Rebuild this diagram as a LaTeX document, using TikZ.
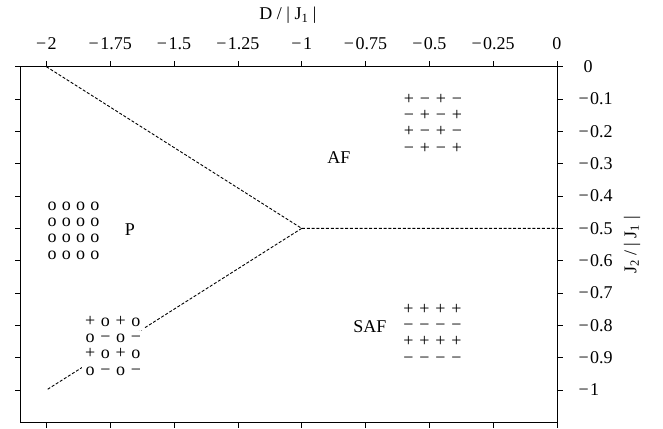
\documentclass[tikz,border=0pt]{standalone}
\usepackage{fontspec}
\setmainfont{Liberation Serif}
\usetikzlibrary{positioning}
\newcommand{\spinrow}[5][16pt]{%
\makebox[#1]{#2}\makebox[#1]{#3}\makebox[#1]{#4}\makebox[#1]{#5}}
\newcommand{\mn}{−\kern1.5pt}
\tikzset{
  spincells/.style={inner sep=0, text height=12pt, text depth=4pt, fill=white},
  border/.style={line width=0.9pt, dash pattern=on 3pt off 1.8pt},
  axistick/.style={line width=0.6pt}
}

\begin{document}
\begin{tikzpicture}[x=255.25pt, y=323.3pt, font=\fontsize{18}{20}\selectfont]
\useasboundingbox (-2.1818,-1.1175) rectangle (0.4153,0.2063);
% frame and ticks
\draw[line width=0.8pt] (-2.1,-1.1) rectangle (0,0);
\draw[line width=1.4pt] (-2.1,0) -- (0,0);
\foreach \d/\t [count=\i] in {-2/{\mn2}, -1.75/{\mn1.75}, -1.5/{\mn1.5},
    -1.25/{\mn1.25}, -1/{\mn1}, -0.75/{\mn0.75}, -0.5/{\mn0.5},
    -0.25/{\mn0.25}, 0/0} {
  \draw[axistick] (\d,0) -- ++(0,6pt);
  \draw[axistick] (\d,-1.1) -- ++(0,-6pt);
  \path (\d,0) ++(0,17pt) node[anchor=base] (dlab\i) {\t};
}
\foreach \k in {0,...,10} {
  \draw[axistick] (-2.1,-\k/10) -- ++(-6pt,0);
  \draw[axistick] (0,-\k/10) -- ++(6pt,0);
}
\foreach \k in {1,...,9}
  \path (0,-\k/10) ++(18pt,0) node[anchor=west] (jlab\k) {\mn0.\k};
\path (0,-1) ++(18pt,0) node[anchor=west] (jlab10) {\mn1};
\path (0,0) ++(23pt,0) node[anchor=west] (jlab0) {0};
% axis titles
\path (-1.054,0) ++(0,47pt) node[anchor=base] (dtitle) {D / | J\textsubscript{1} |};
\path (0,-0.5515) ++(75pt,0) node[rotate=90] (jtitle) {J\textsubscript{2} / | J\textsubscript{1} |};
% phase boundaries
\coordinate (a) at (-2,0);
\coordinate (t) at (-1,-0.5);
\coordinate (e) at (0,-0.5);
\coordinate (b) at (-2,-1);
\draw[border] (a) -- (t) -- (e);
\draw[border] (t) -- (b);
% AF
\node (af) at (-0.854,-0.282) {AF};
\node[spincells] (af1) at (-0.486,-0.103) {\spinrow{+}{−}{+}{−}};
\node[spincells, below=0pt of af1] (af2) {\spinrow{−}{+}{−}{+}};
\node[spincells, below=0pt of af2] (af3) {\spinrow{+}{−}{+}{−}};
\node[spincells, below=0pt of af3] (af4) {\spinrow{−}{+}{−}{+}};
% P
\node (p) at (-1.673,-0.505) {P};
\node[spincells] (p1) at (-1.894,-0.431) {\spinrow[14.3pt]{o}{o}{o}{o}};
\node[spincells, below=0pt of p1] (p2) {\spinrow[14.3pt]{o}{o}{o}{o}};
\node[spincells, below=0pt of p2] (p3) {\spinrow[14.3pt]{o}{o}{o}{o}};
\node[spincells, below=0pt of p3] (p4) {\spinrow[14.3pt]{o}{o}{o}{o}};
% P / SAF boundary
\node[spincells] (m1) at (-1.739,-0.790) {\spinrow[15.3pt]{+}{o}{+}{o}};
\node[spincells, below=0pt of m1] (m2) {\spinrow[15.3pt]{o}{−}{o}{−}};
\node[spincells, below=0pt of m2] (m3) {\spinrow[15.3pt]{+}{o}{+}{o}};
\node[spincells, below=0pt of m3] (m4) {\spinrow[15.3pt]{o}{−}{o}{−}};
% SAF
\node (saf) at (-0.733,-0.805) {SAF};
\node[spincells] (s1) at (-0.488,-0.753) {\spinrow{+}{+}{+}{+}};
\node[spincells, below=0pt of s1] (s2) {\spinrow{−}{−}{−}{−}};
\node[spincells, below=0pt of s2] (s3) {\spinrow{+}{+}{+}{+}};
\node[spincells, below=0pt of s3] (s4) {\spinrow{−}{−}{−}{−}};
\end{tikzpicture}
\end{document}
